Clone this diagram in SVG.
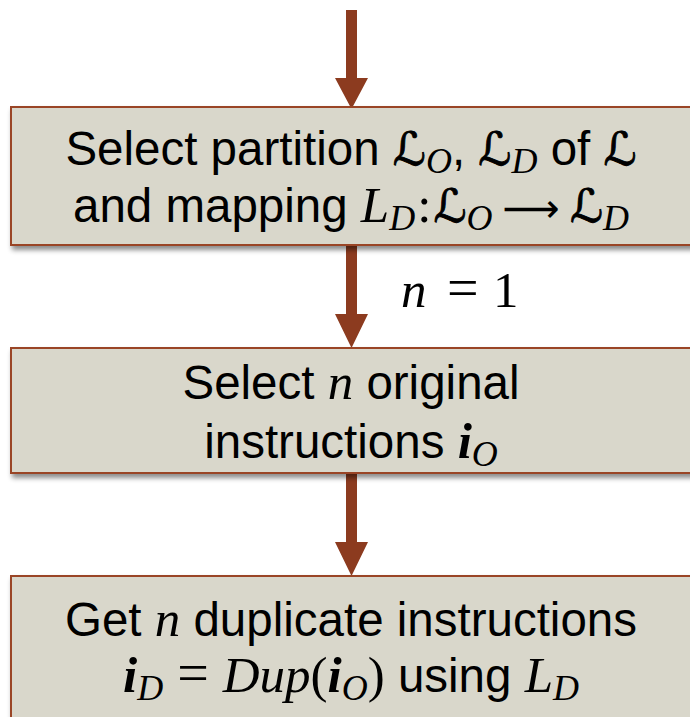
<svg xmlns="http://www.w3.org/2000/svg" width="690" height="717" viewBox="0 0 690 717">
<defs>
<filter id="sh" x="-5%" y="-10%" width="115%" height="130%">
<feDropShadow dx="2" dy="4" stdDeviation="2.5" flood-color="#000" flood-opacity="0.45"/>
</filter>
<style>
.box{fill:#D9D7CB;stroke:#9A4526;stroke-width:2;filter:url(#sh)}
.arr{fill:#8C3B1F}
.t{font-family:"Liberation Sans",Arial,sans-serif;font-size:47.5px;fill:#000;text-anchor:middle}
.m{font-family:"Liberation Serif","DejaVu Serif",serif;font-style:italic;font-size:51px}
.s{font-family:"DejaVu Sans","Noto Sans",sans-serif;font-style:normal;font-size:46px;stroke:#000;stroke-width:0.9}
.a{font-family:"DejaVu Sans","Noto Sans",sans-serif;font-style:normal;font-size:40px}
.b{font-weight:bold}
.sub{font-family:"Liberation Serif","DejaVu Serif",serif;font-style:italic;font-size:36px}
.r{font-family:"Liberation Serif","DejaVu Serif",serif;font-style:normal;font-size:51px}
</style>
</defs>
<rect width="690" height="717" fill="#fff"/>
<g id="connectors">
<polygon class="arr" points="346,10 357,10 357,78 368,78 351.5,109 335,78 346,78"/>
<polygon class="arr" points="346,245 357,245 357,314 368,314 351.5,348 335,314 346,314"/>
<polygon class="arr" points="346,473 357,473 357,542 368,542 351.5,576 335,542 346,542"/>
<text x="401" y="307" class="m">n</text>
<text x="447" y="307" class="r" style="font-size:56px">=</text>
<text x="493" y="307" class="r">1</text>
</g>
<g id="node1">
<rect class="box" x="11" y="107" width="700" height="138"/>
<text class="t" x="351" y="165">Select partition <tspan class="s">ℒ</tspan><tspan class="sub" dy="8">O</tspan><tspan dy="-8">, </tspan><tspan class="s">ℒ</tspan><tspan class="sub" dy="8">D</tspan><tspan dy="-8"> of </tspan><tspan class="s">ℒ</tspan></text>
<text class="t" x="351" y="222">and mapping <tspan class="m">L</tspan><tspan class="sub" dy="8">D</tspan><tspan class="r" dy="-8" dx="2">:</tspan><tspan class="s" dx="2">ℒ</tspan><tspan class="sub" dy="8">O</tspan><tspan class="a" dy="-8" dx="10">⟶</tspan><tspan class="s" dx="10">ℒ</tspan><tspan class="sub" dy="8">D</tspan></text>
</g>
<g id="node2">
<rect class="box" x="11" y="348" width="700" height="125"/>
<text class="t" x="351" y="399">Select <tspan class="m">n</tspan> original</text>
<text class="t" x="351" y="458">instructions <tspan class="m b">i</tspan><tspan class="sub" dy="8">O</tspan></text>
</g>
<g id="node3">
<rect class="box" x="11" y="576" width="700" height="160"/>
<text class="t" x="351" y="636">Get <tspan class="m">n</tspan> duplicate instructions</text>
<text class="t" x="351" y="692"><tspan class="m b">i</tspan><tspan class="sub" dy="8">D</tspan><tspan class="r" dy="-8" dx="14" style="font-size:56px">=</tspan><tspan class="m" dx="14">Dup</tspan><tspan class="r">(</tspan><tspan class="m b">i</tspan><tspan class="sub" dy="8">O</tspan><tspan class="r" dy="-8">)</tspan> using <tspan class="m">L</tspan><tspan class="sub" dy="8">D</tspan></text>
</g>
</svg>
